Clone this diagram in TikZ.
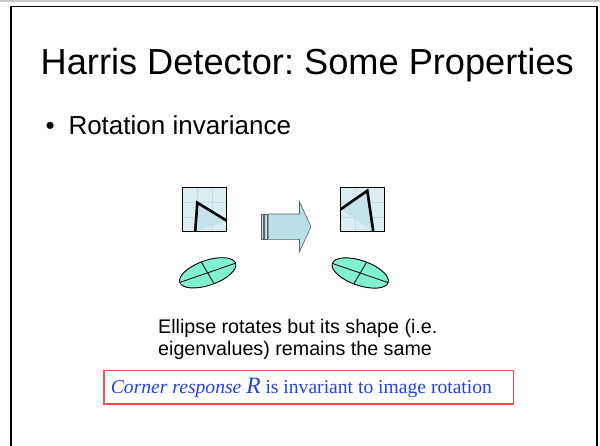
\documentclass[tikz,border=0pt]{standalone}
\usepackage{fontspec}
\setmainfont{Liberation Serif}
\newfontfamily\arial{Liberation Sans}
\frenchspacing
\definecolor{slideblue}{RGB}{34,68,221}
\definecolor{boxred}{RGB}{255,72,72}
\definecolor{patchfill}{RGB}{218,238,241}
\definecolor{patchgrid}{RGB}{190,222,228}
\definecolor{patchshade}{RGB}{196,228,233}
\definecolor{arrowfill}{RGB}{184,224,230}
\definecolor{arrowline}{RGB}{90,100,105}
\definecolor{ellfill}{RGB}{128,242,210}
\tikzset{
  patch/.style={fill=patchfill, draw=black, line width=0.9pt},
  gridline/.style={draw=patchgrid, line width=0.6pt},
  edgeline/.style={draw=black, line width=2.6pt, line join=miter},
  arrowpart/.style={fill=arrowfill, draw=arrowline, line width=0.6pt},
  ellshape/.style={fill=ellfill, draw=black, line width=0.9pt},
  axisline/.style={draw=black, line width=0.8pt}
}
\begin{document}
\begin{tikzpicture}[x=1pt,y=-1pt]
\useasboundingbox (0,0) rectangle (600,445);

% slide frame
\draw[draw=black!22, line width=1.5pt] (0,0.8) -- (600,0.8);
\draw[line width=1.8pt] (11,450) -- (11,6.5) -- (597,6.5) -- (597,450);

% title and bullet
\node[anchor=base west, inner sep=0pt, font={\arial\fontsize{36.2}{40}\selectfont}] (title) at (40.5,74) {Harris Detector: Some Properties};
\node[anchor=base west, inner sep=0pt, font={\arial\fontsize{26}{30}\selectfont}] (bullet) at (45.5,134.5) {\textbullet};
\node[anchor=base west, inner sep=0pt, font={\arial\fontsize{26}{30}\selectfont}] (item) at (68.3,134.5) {Rotation invariance};

% left image patch
\fill[patchfill] (182.3,187.3) rectangle (226.7,231.7);
\foreach \t in {1,2} {
  \draw[gridline] ({182.3+\t*44.4/3},187.3) -- ({182.3+\t*44.4/3},231.7);
  \draw[gridline] (182.3,{187.3+\t*44.4/3}) -- (226.7,{187.3+\t*44.4/3});
}
\fill[patchshade] (197.3,202.7) -- (195.4,231.7) -- (226.7,220.7) -- cycle;
\draw[patch, fill=none] (182.3,187.3) rectangle (226.7,231.7);
\coordinate (la) at (195.2,231.7);
\coordinate (lb) at (197.3,202.7);
\coordinate (lc) at (226.7,220.7);
\draw[edgeline] (la) -- (lb) -- (lc);

% right image patch
\fill[patchfill] (340.3,187.3) rectangle (384.3,231.7);
\foreach \t in {1,2} {
  \draw[gridline] ({340.3+\t*44/3},187.3) -- ({340.3+\t*44/3},231.7);
  \draw[gridline] (340.3,{187.3+\t*44.4/3}) -- (384.3,{187.3+\t*44.4/3});
}
\fill[patchshade] (340.7,209.3) -- (367.3,190.7) -- (373.3,231.7) -- cycle;
\draw[patch, fill=none] (340.3,187.3) rectangle (384.3,231.7);
\coordinate (ra) at (340.7,209.3);
\coordinate (rb) at (367.3,190.7);
\coordinate (rc) at (373.3,231.7);
\draw[edgeline] (ra) -- (rb) -- (rc);

% block arrow with striped tail
\draw[arrowpart] (261,214) rectangle (263.4,239.3);
\draw[arrowpart] (264.7,214) rectangle (267.2,239.3);
\draw[arrowpart] (268.3,214) -- (299.5,214) -- (299.5,201.7) -- (311,226.7)
  -- (299.5,251.7) -- (299.5,239.3) -- (268.3,239.3) -- cycle;

% left ellipse with its axes
\begin{scope}[shift={(207.7,272.8)}, rotate=19]
  \draw[ellshape] (0,0) ellipse [x radius=29.5, y radius=12.4];
  \draw[axisline] (-29.5,0) -- (29.5,0);
  \draw[axisline] (-2.5,-12.3) -- (2.5,12.3);
\end{scope}

% right ellipse with its axes
\begin{scope}[shift={(360.2,273)}, rotate=-19]
  \draw[ellshape] (0,0) ellipse [x radius=29.5, y radius=12.4];
  \draw[axisline] (-29.5,0) -- (29.5,0);
  \draw[axisline] (2.5,-12.3) -- (-2.5,12.3);
\end{scope}

% caption
\node[anchor=base west, inner sep=0pt, font={\arial\fontsize{19.7}{22}\selectfont}] (cap1) at (158,333) {Ellipse rotates but its shape (i.e.};
\node[anchor=base west, inner sep=0pt, font={\arial\fontsize{19.7}{22}\selectfont}] (cap2) at (158,355) {eigenvalues) remains the same};

% boxed statement
\draw[draw=boxred, line width=1.3pt] (104,370.5) rectangle (513.3,404);
\node[anchor=base west, inner sep=0pt, text=slideblue, font={\fontsize{19.6}{22}\selectfont}] (stmt) at (110.7,393.3)
  {\textit{Corner response} {\fontsize{23.5}{26}\selectfont\textit{R}} is invariant to image rotation};
\end{tikzpicture}
\end{document}
